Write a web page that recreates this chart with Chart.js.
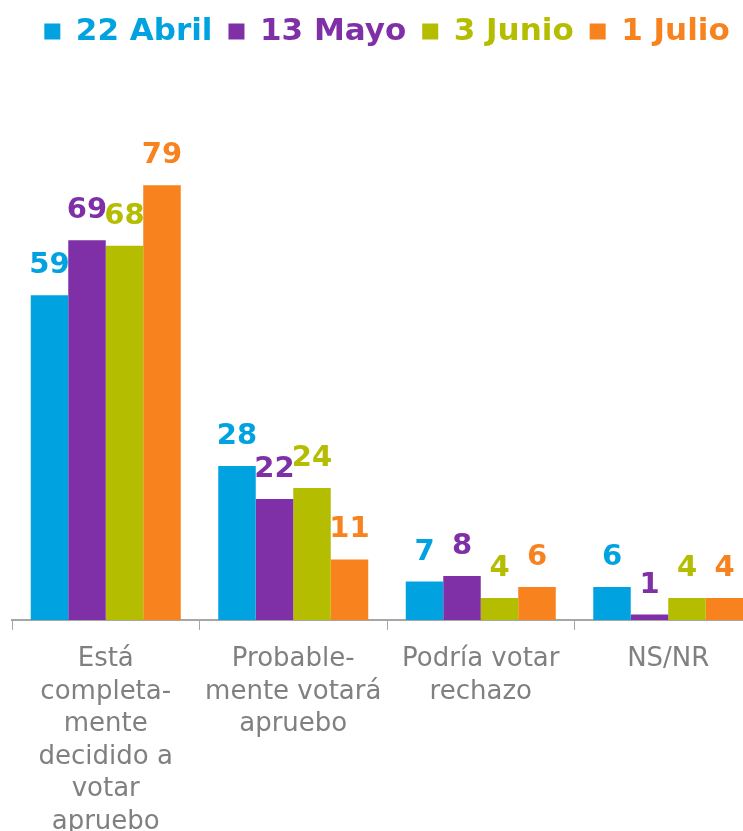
<!DOCTYPE html>
<html>
<head>
<meta charset="utf-8">
<script src="https://cdn.jsdelivr.net/npm/chart.js@4.4.0/dist/chart.umd.min.js"></script>
<style>
  html, body { margin: 0; padding: 0; background: #fff; overflow: hidden; }
  #wrap { width: 775px; height: 831px; }
</style>
</head>
<body>
<div id="wrap"><canvas id="chart"></canvas></div>
<script>
// DATA
var categories = [
  ["Está", "completa-", "mente", "decidido a", "votar", "apruebo"],
  ["Probable-", "mente votará", "apruebo"],
  ["Podría votar", "rechazo"],
  ["NS/NR"]
];
var seriesNames = ["22 Abril", "13 Mayo", "3 Junio", "1 Julio"];
var abril = [59, 28, 7, 6];
var mayo = [69, 22, 8, 1];
var junio = [68, 24, 4, 4];
var julio = [79, 11, 6, 4];
var colors = ["#00A3E0", "#7F30A6", "#B5BD00", "#F7821E"];

var FONT = "'DejaVu Sans', sans-serif";

// value labels above bars
var valueLabels = {
  id: "valueLabels",
  afterDatasetsDraw: function(chart) {
    var ctx = chart.ctx;
    ctx.save();
    ctx.font = "bold 29px " + FONT;
    ctx.textAlign = "center";
    ctx.textBaseline = "bottom";
    chart.data.datasets.forEach(function(ds, i) {
      var meta = chart.getDatasetMeta(i);
      ctx.fillStyle = ds.backgroundColor;
      meta.data.forEach(function(bar, j) {
        ctx.fillText(ds.data[j], bar.x, bar.y - 15);
      });
    });
    ctx.restore();
  }
};

var allSeries = [abril, mayo, junio, julio];
var datasets = seriesNames.map(function(name, i) {
  return {
    label: name,
    data: allSeries[i],
    backgroundColor: colors[i],
    borderWidth: 0,
    barPercentage: 1,
    categoryPercentage: 0.8
  };
});

new Chart(document.getElementById("chart"), {
  type: "bar",
  data: { labels: categories, datasets: datasets },
  plugins: [valueLabels],
  options: {
    responsive: true,
    maintainAspectRatio: false,
    animation: false,
    layout: { padding: { left: 12, right: 13, top: 0, bottom: 0 } },
    plugins: {
      tooltip: { enabled: false },
      legend: {
        position: "top",
        labels: {
          usePointStyle: true,
          pointStyle: "rect",
          boxWidth: 16,
          boxHeight: 16,
          padding: 16,
          font: { family: FONT, size: 31, weight: "bold" },
          generateLabels: function(chart) {
            return chart.data.datasets.map(function(ds, i) {
              return {
                text: ds.label,
                fillStyle: ds.backgroundColor,
                strokeStyle: ds.backgroundColor,
                fontColor: ds.backgroundColor,
                lineWidth: 0,
                pointStyle: "rect",
                datasetIndex: i,
                hidden: false
              };
            });
          }
        }
      }
    },
    scales: {
      x: {
        // last label line runs off the bottom, as in the original
        afterFit: function(scale) { scale.height -= 20; },
        grid: {
          offset: true,
          drawOnChartArea: false,
          drawTicks: true,
          tickLength: 10,
          color: "#A6A6A6"
        },
        border: { color: "#A6A6A6", width: 2 },
        ticks: {
          color: "#808080",
          font: { family: FONT, size: 26, lineHeight: 1.25 },
          padding: 13,
          maxRotation: 0,
          autoSkip: false
        }
      },
      y: {
        display: false,
        min: 0,
        max: 102.3
      }
    }
  }
});
</script>
</body>
</html>
